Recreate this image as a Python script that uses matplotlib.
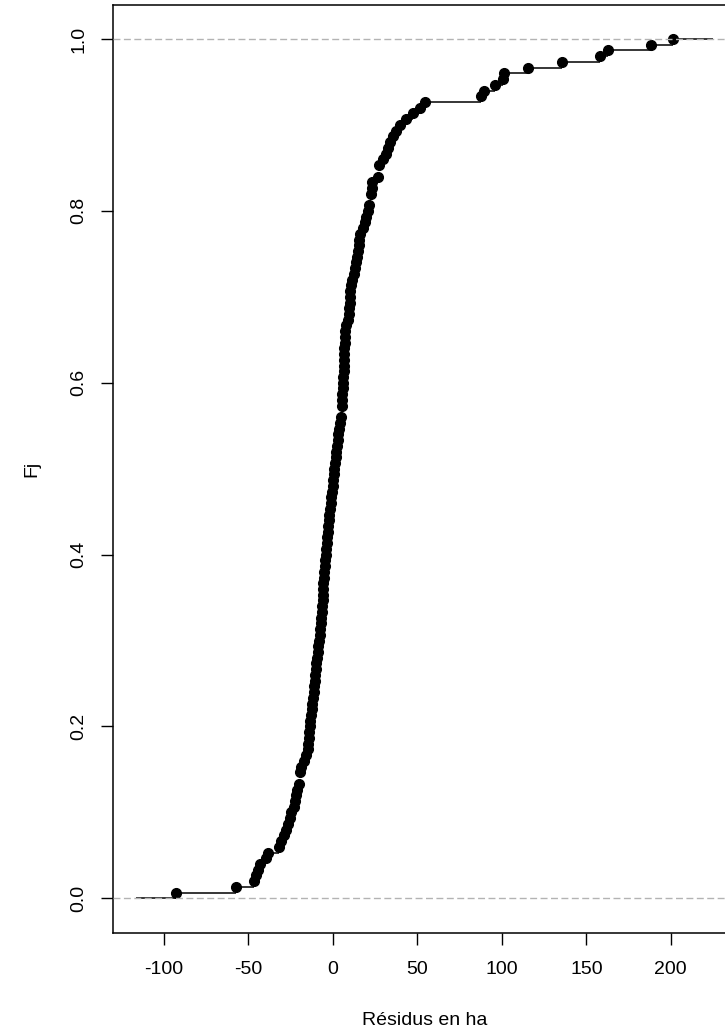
import numpy as np
import matplotlib
matplotlib.use("Agg")
import matplotlib.pyplot as plt

plt.rcParams["font.family"] = ["Liberation Sans", "DejaVu Sans"]

# residuals (ha), sorted
residus = [
    -92.9, -57.5, -46.9, -45.5, -44.3, -43.1, -39.3, -38.6, -32.0, -30.8,
    -29.2, -27.8, -26.6, -25.6, -24.5, -23.2, -22.7, -22.0, -21.0, -20.3,
    -19.4, -19.4, -19.0, -17.0, -15.8, -14.9, -14.6, -14.3, -14.0, -13.8,
    -13.5, -13.0, -12.6, -12.2, -11.7, -11.3, -11.0, -10.7, -10.4, -10.1,
    -9.8, -9.4, -8.9, -8.5, -8.1, -7.8, -7.4, -7.1, -6.8, -6.5,
    -6.3, -6.0, -5.9, -5.8, -5.6, -5.3, -5.0, -4.7, -4.5, -4.3,
    -4.0, -3.7, -3.4, -3.1, -2.8, -2.5, -2.0, -1.6, -1.2, -0.9,
    -0.5, -0.2, 0.1, 0.5, 0.8, 1.2, 1.6, 2.0, 2.4, 2.9,
    3.3, 3.8, 4.2, 4.8, 5.2, 5.2, 5.4, 5.6, 5.8, 6.0,
    6.2, 6.3, 6.4, 6.5, 6.6, 6.7, 6.9, 7.0, 7.2, 7.8,
    8.7, 9.4, 9.7, 9.9, 10.2, 10.4, 10.7, 11.5, 12.8, 13.3,
    13.9, 14.4, 14.9, 15.3, 15.7, 16.2, 17.7, 19.3, 19.9, 20.6,
    21.2, 22.6, 22.6, 23.0, 23.3, 26.8, 27.6, 27.6, 29.7, 31.4,
    32.5, 33.8, 35.8, 37.6, 40.0, 43.3, 47.5, 51.4, 54.7, 87.9,
    89.5, 95.9, 100.6, 101.3, 115.4, 135.7, 158.0, 162.6, 188.4, 201.4,
]
x_ticks = [-100, -50, 0, 50, 100, 150, 200]
y_ticks = [0.0, 0.2, 0.4, 0.6, 0.8, 1.0]

# empirical cdf
vals = np.sort(np.array(residus))
knots, counts = np.unique(vals, return_counts=True)
Fj = np.cumsum(counts) / len(vals)

# same x range rule as R's plot.stepfun, then 4% axis expansion
rx = knots[-1] - knots[0]
dr = max(0.08 * rx, np.median(np.diff(knots)))
xlo, xhi = knots[0] - dr, knots[-1] + dr
pad = 0.04 * (xhi - xlo)

fig = plt.figure(figsize=(7.25, 10.31), dpi=100)
ax = fig.add_axes([0.1559, 0.0953, 0.8593, 0.9002])

starts = np.concatenate([[xlo], knots])
ends = np.concatenate([knots, [xhi]])
levels = np.concatenate([[0.0], Fj])
ax.hlines(levels, starts, ends, color="black", lw=1.1, zorder=2)
ax.plot(knots, Fj, "o", color="black", ms=7.0, zorder=3)
for h in (0.0, 1.0):
    ax.axhline(h, color="#b3b3b3", lw=1.0, ls=(0, (5, 2.5)), zorder=4)

ax.set_xlim(xlo - pad, xhi + pad)
ax.set_ylim(-0.04, 1.04)
ax.set_xticks(x_ticks)
ax.set_xticklabels([str(t) for t in x_ticks])
ax.set_yticks(y_ticks)
ax.set_yticklabels([f"{t:.1f}" for t in y_ticks], rotation=90, va="center")
ax.tick_params(length=8.5, width=1.0, labelsize=14, colors="black")
ax.tick_params(axis="x", pad=12)
ax.tick_params(axis="y", pad=10)
for s in ax.spines.values():
    s.set_linewidth(1.1)

ax.set_xlabel("Résidus en ha", fontsize=14, labelpad=24)
fig.text(32 / 725, 0.0953 + 0.9002 / 2, "Fj", rotation=90,
         fontsize=14, ha="center", va="center")

fig.savefig("out.png", dpi=100)
